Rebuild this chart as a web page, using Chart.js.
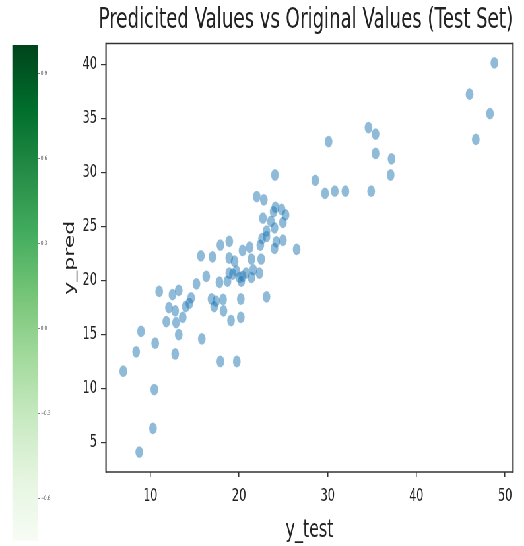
<!DOCTYPE html>
<html>
<head>
<meta charset="utf-8">
<script src="https://cdn.jsdelivr.net/npm/chart.js@4"></script>
<style>
  html, body { margin: 0; padding: 0; background: #fff; }
  body { width: 524px; height: 546px; overflow: hidden; position: relative; }
  /* the reference picture is squeezed sideways, so draw wide and squeeze */
  #wrap { position: absolute; left: 0; top: 0; width: 794px; height: 546px;
          transform: scaleX(0.66); transform-origin: 0 0; }
  #main { position: absolute; left: 0; top: 0; }
  #cbar { position: absolute; left: 0; top: 0; }
</style>
</head>
<body>
<div id="wrap">
  <canvas id="main" width="794" height="546"></canvas>
  <canvas id="cbar" width="100" height="546"></canvas>
</div>
<script>
// scatter data
const yTest = [48.8, 46.0, 48.3, 46.7, 34.6, 35.4, 30.1, 35.4, 37.2, 37.1,
  28.6, 29.7, 30.8, 32.0, 34.9, 24.05, 22.0, 22.8, 24.1, 24.8,
  25.25, 23.9, 22.7, 24.95, 23.6, 23.1, 24.0, 22.6, 23.1, 24.95,
  24.2, 24.0, 26.5, 22.4, 17.9, 18.9, 20.4, 21.2, 15.7, 17.0,
  18.9, 19.5, 21.4, 22.5, 18.9, 19.7, 20.05, 20.4, 20.8, 16.3,
  17.8, 18.7, 15.2, 11.0, 12.5, 13.2, 14.6, 14.4, 16.9, 17.4,
  18.2, 18.25, 17.2, 12.1, 12.8, 13.65, 14.0, 11.8, 12.9, 19.1,
  20.2, 8.95, 13.2, 15.8, 10.55, 12.8, 8.4, 6.95, 10.45, 10.3,
  8.75, 17.9, 19.75, 23.1, 19.3, 20.25, 21.4, 21.6, 22.3, 20.2];
const yPred = [40.2, 37.3, 35.5, 33.1, 34.2, 33.6, 32.9, 31.8, 31.3, 29.8,
  29.3, 28.1, 28.3, 28.3, 28.3, 29.8, 27.8, 27.5, 26.8, 26.6,
  26.1, 26.4, 25.8, 25.4, 25.5, 24.6, 24.9, 23.9, 24.1, 23.75,
  23.6, 23.0, 22.9, 23.3, 23.3, 23.65, 22.8, 23.1, 22.3, 22.2,
  22.1, 21.8, 22.0, 22.0, 20.7, 20.9, 20.3, 20.4, 20.7, 20.4,
  19.85, 19.95, 19.7, 19.0, 18.7, 19.1, 18.4, 17.9, 18.3, 18.1,
  18.25, 17.2, 17.6, 17.5, 17.2, 16.6, 17.6, 16.2, 16.1, 16.3,
  16.6, 15.3, 15.0, 14.6, 14.2, 13.2, 13.4, 11.6, 9.9, 6.3,
  4.1, 12.5, 12.5, 18.5, 20.6, 19.95, 20.3, 21.0, 20.7, 18.3];

const xTicks = [10, 20, 30, 40, 50];
const yTicks = [5, 10, 15, 20, 25, 30, 35, 40];

// colorbar on the left
const cbRange = [-0.75, 1.0];
const cbTicks = [-0.6, -0.3, 0.0, 0.3, 0.6, 0.9];
const cbTickLabels = ['\u22120.6', '\u22120.3', '0.0', '0.3', '0.6', '0.9'];
const greens = ['#f7fcf5', '#e5f5e0', '#c7e9c0', '#a1d99b', '#74c476',
                '#41ab5d', '#238b45', '#006d2c', '#00441b'];

const FONT = 'DejaVu Sans';
const INK = '#222';

// box round the plot, like matplotlib spines
const frame = {
  id: 'frame',
  afterDatasetsDraw(chart) {
    const { ctx, chartArea: a } = chart;
    ctx.save();
    ctx.strokeStyle = '#333';
    ctx.lineWidth = 1.4;
    ctx.beginPath();
    ctx.moveTo(a.left, a.top); ctx.lineTo(a.right, a.top);
    ctx.moveTo(a.left, a.bottom); ctx.lineTo(a.right, a.bottom);
    ctx.stroke();
    ctx.lineWidth = 2.1;
    ctx.beginPath();
    ctx.moveTo(a.left, a.top - 0.7); ctx.lineTo(a.left, a.bottom + 0.7);
    ctx.moveTo(a.right, a.top - 0.7); ctx.lineTo(a.right, a.bottom + 0.7);
    ctx.stroke();
    ctx.restore();
  }
};

new Chart(document.getElementById('main'), {
  type: 'scatter',
  data: {
    datasets: [{
      data: yTest.map((x, i) => ({ x, y: yPred[i] })),
      backgroundColor: 'rgba(31,119,180,0.5)',
      borderColor: 'rgba(255,255,255,0.25)',
      borderWidth: 0.6,
      pointRadius: 5.9,
    }]
  },
  options: {
    responsive: false,
    animation: false,
    devicePixelRatio: 1,
    layout: { padding: { left: 0, right: 16.7, top: 0, bottom: 0 } },
    plugins: {
      legend: { display: false },
      tooltip: { enabled: false },
      title: {
        display: true,
        text: 'Predicited Values vs Original Values (Test Set)',
        align: 'end',
        color: INK,
        font: { family: FONT, size: 27.5, weight: 'normal' },
        padding: { top: 4.6, bottom: 5.9 },
      },
    },
    scales: {
      x: {
        type: 'linear',
        min: 5.0,
        max: 50.9,
        afterBuildTicks: s => { s.ticks = xTicks.map(v => ({ value: v })); },
        afterFit: s => { s.height = 74; },
        border: { display: false },
        grid: { display: true, drawOnChartArea: false, tickLength: 5, color: '#333', lineWidth: 1.5 },
        ticks: { color: INK, padding: 9, font: { family: FONT, size: 17 } },
        title: {
          display: true, text: 'y_test', color: INK,
          font: { family: FONT, size: 24 }, padding: { top: 0, bottom: 1 },
        },
      },
      y: {
        type: 'linear',
        min: 2.25,
        max: 42.0,
        afterBuildTicks: s => { s.ticks = yTicks.map(v => ({ value: v })); },
        afterFit: s => { s.width = 160.6; },
        border: { display: false },
        grid: { display: true, drawOnChartArea: false, tickLength: 7.6, color: '#333', lineWidth: 1.2 },
        ticks: { color: INK, padding: 6, font: { family: FONT, size: 17 } },
        title: {
          display: true, text: 'y_pred', color: INK,
          font: { family: FONT, size: 22 }, padding: { top: 92.8, bottom: 0 },
        },
      },
    },
  },
  plugins: [frame],
});

new Chart(document.getElementById('cbar'), {
  type: 'bar',
  data: {
    labels: [''],
    datasets: [{
      data: [cbRange],
      barPercentage: 1,
      categoryPercentage: 1,
      borderWidth: 0,
      backgroundColor: (c) => {
        const area = c.chart.chartArea;
        if (!area) return greens[4];
        const g = c.chart.ctx.createLinearGradient(0, area.bottom, 0, area.top);
        greens.forEach((col, i) => g.addColorStop(i / (greens.length - 1), col));
        return g;
      },
    }]
  },
  options: {
    responsive: false,
    animation: false,
    devicePixelRatio: 1,
    layout: { padding: { left: 18.6, right: 0, top: 45, bottom: 0 } },
    plugins: { legend: { display: false }, tooltip: { enabled: false } },
    scales: {
      x: { display: false },
      y: {
        position: 'right',
        min: cbRange[0],
        max: cbRange[1],
        afterBuildTicks: s => { s.ticks = cbTicks.map(v => ({ value: v })); },
        afterFit: s => { s.width = 42.9; },
        border: { display: false },
        grid: { display: true, drawOnChartArea: false, tickLength: 3, color: '#666', lineWidth: 0.8 },
        ticks: {
          color: '#555', padding: 1.6, font: { family: FONT, size: 6 },
          callback: (v) => cbTickLabels[cbTicks.findIndex(t => Math.abs(t - v) < 1e-9)],
        },
      },
    },
  },
});
</script>
</body>
</html>
